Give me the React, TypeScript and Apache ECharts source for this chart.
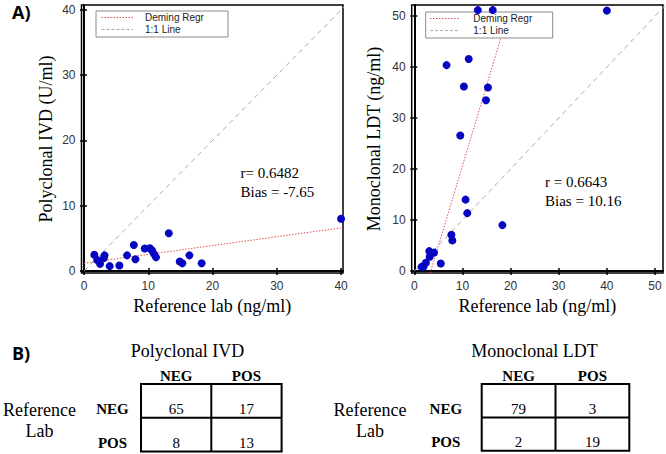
import React, { useEffect, useRef } from "react";
import * as echarts from "echarts";

// ---- Data ----
const polyTicksX = [0, 10, 20, 30, 40];
const polyTicksY = [0, 10, 20, 30, 40];
const monoTicksX = [0, 10, 20, 30, 40, 50];
const monoTicksY = [0, 10, 20, 30, 40, 50];

const polyRef = [1.6, 2.05, 2.5, 3.1, 3.2, 4.0, 5.5, 6.7, 7.75, 8.0, 9.45, 10.25, 10.6, 10.9, 11.2, 13.2, 14.9, 15.3, 16.4, 18.3, 40];
const polyIvd = [2.5, 1.7, 1.1, 2.0, 2.4, 0.75, 0.85, 2.4, 4.0, 1.8, 3.45, 3.5, 3.15, 2.6, 2.1, 5.8, 1.45, 1.2, 2.4, 1.2, 8.0];

const monoRef = [1.5, 1.9, 2.4, 3.1, 3.2, 4.1, 5.5, 6.7, 7.7, 7.9, 9.55, 10.3, 10.65, 11.0, 11.3, 13.2, 14.9, 15.3, 16.3, 18.3, 40];
const monoLdt = [0.8, 0.8, 1.6, 3.9, 2.8, 3.6, 1.45, 40.4, 7.1, 6.0, 26.6, 36.2, 14.0, 11.35, 41.6, 51.2, 33.5, 36.0, 51.2, 9.0, 51.1];

const polyDemingX = [0, 40.3];
const polyDemingY = [1.2, 6.65];
const polyIdentity = [0, 40.7];

// visible part of the Deming line (it disappears behind the legend box)
const monoDemingX = [3.3, 18.0];
const monoDemingY = [-0.45, 45.8];
const monoIdentity = [0, 52.3];

const polyStats = ["r= 0.6482", "Bias = -7.65"];
const monoStats = ["r = 0.6643", "Bias = 10.16"];

const legendLabels = ["Deming Regr", "1:1 Line"];

const tableHeaders = ["NEG", "POS"];
const polyTable = [
  [65, 17],
  [8, 13],
];
const monoTable = [
  [79, 3],
  [2, 19],
];

// ---- Styles ----
const SERIF = "Liberation Serif";
const SANS = "Liberation Sans";
const DOT_BLUE = "#0606c2";
const RED = "#e05555";
const GRAY = "#ababab";

function zip(a: number[], b: number[]) {
  return a.map((v, i) => [v, b[i]]);
}

function makeAxes(
  gridIndex: number,
  xr: [number, number],
  yr: [number, number],
  xt: number[],
  yt: number[],
  yName: string,
  yGap: number
) {
  const x = [
    {
      gridIndex,
      type: "value",
      position: "bottom",
      min: xr[0],
      max: xr[1],
      axisLine: { show: true, lineStyle: { color: "#000", width: 2 } },
      axisTick: { show: true, customValues: xt, length: 4, lineStyle: { color: "#000", width: 1.5 } },
      axisLabel: { customValues: xt, color: "#333", fontFamily: SANS, fontSize: 12, margin: 7 },
      splitLine: { show: false },
      name: "Reference lab (ng/ml)",
      nameLocation: "middle",
      nameGap: 20,
      nameTextStyle: { fontFamily: SERIF, fontSize: 18, color: "#000", fontWeight: "normal" },
    },
    {
      gridIndex,
      type: "value",
      position: "bottom",
      min: xr[0],
      max: xr[1],
      axisLine: { show: false },
      axisTick: { show: true, inside: true, customValues: xt, length: 3, lineStyle: { color: "#000", width: 1.5 } },
      axisLabel: { show: false },
      splitLine: { show: false },
    },
  ];
  const y = [
    {
      gridIndex,
      type: "value",
      position: "left",
      min: yr[0],
      max: yr[1],
      axisLine: { show: true, lineStyle: { color: "#000", width: 2 } },
      axisTick: { show: true, customValues: yt, length: 4, lineStyle: { color: "#000", width: 1.5 } },
      axisLabel: { customValues: yt, color: "#333", fontFamily: SANS, fontSize: 12, margin: 6 },
      splitLine: { show: false },
      name: yName,
      nameLocation: "middle",
      nameGap: yGap,
      nameTextStyle: { fontFamily: SERIF, fontSize: 18, color: "#000", fontWeight: "normal" },
    },
    {
      gridIndex,
      type: "value",
      position: "left",
      min: yr[0],
      max: yr[1],
      axisLine: { show: false },
      axisTick: { show: true, inside: true, customValues: yt, length: 3, lineStyle: { color: "#000", width: 1.5 } },
      axisLabel: { show: false },
      splitLine: { show: false },
    },
  ];
  return { x, y };
}

function legendGraphics(bx: number, by: number, bw: number, bh: number, lx1: number, lx2: number, tx: number) {
  const y1 = by + 6.5;
  const y2 = by + 18.5;
  return [
    {
      type: "rect",
      z: 3,
      shape: { x: bx, y: by, width: bw, height: bh },
      style: { fill: "#fff", stroke: "#8a8a8a", lineWidth: 1 },
    },
    {
      type: "line",
      z: 4,
      shape: { x1: lx1, y1, x2: lx2, y2: y1 },
      style: { stroke: RED, lineWidth: 1, lineDash: [1.5, 1.5] },
    },
    {
      type: "line",
      z: 4,
      shape: { x1: lx1, y1: y2, x2: lx2, y2 },
      style: { stroke: GRAY, lineWidth: 1, lineDash: [3, 2] },
    },
    {
      type: "text",
      z: 4,
      x: tx,
      y: y1,
      style: { text: legendLabels[0], fontFamily: SANS, fontSize: 10, fill: "#222", align: "left", verticalAlign: "middle" },
    },
    {
      type: "text",
      z: 4,
      x: tx,
      y: y2,
      style: { text: legendLabels[1], fontFamily: SANS, fontSize: 10, fill: "#222", align: "left", verticalAlign: "middle" },
    },
  ];
}

function statGraphics(lines: string[], x: number, y: number) {
  return lines.map((t, i) => ({
    type: "text",
    z: 4,
    x,
    y: y + i * 18.5,
    style: { text: t, fontFamily: SERIF, fontSize: 15, fill: "#000", align: "left", verticalAlign: "middle" },
  }));
}

function tableGraphics(
  title: string,
  titleX: number,
  values: number[][],
  x0: number,
  y0: number,
  cw: number,
  ch: number,
  rowLabelX: number,
  refX: number
) {
  const els: any[] = [];
  const txt = (t: string, x: number, y: number, size: number, bold = false) => ({
    type: "text",
    x,
    y,
    style: {
      text: t,
      fontFamily: SERIF,
      fontSize: size,
      fontWeight: bold ? "bold" : "normal",
      fill: "#000",
      align: "center",
      verticalAlign: "middle",
    },
  });
  els.push(txt(title, titleX, 350.5, 18));
  tableHeaders.forEach((h, j) => els.push(txt(h, x0 + (j + 0.5) * cw, 375.5, 15, true)));
  els.push({
    type: "rect",
    shape: { x: x0, y: y0, width: 2 * cw, height: 2 * ch },
    style: { fill: "none", stroke: "#000", lineWidth: 2 },
  });
  els.push({
    type: "line",
    shape: { x1: x0 + cw, y1: y0, x2: x0 + cw, y2: y0 + 2 * ch },
    style: { stroke: "#000", lineWidth: 2 },
  });
  els.push({
    type: "line",
    shape: { x1: x0, y1: y0 + ch, x2: x0 + 2 * cw, y2: y0 + ch },
    style: { stroke: "#000", lineWidth: 2 },
  });
  values.forEach((row, i) => {
    const ty = y0 + (i + 1) * ch - 8.5;
    els.push(txt(tableHeaders[i], rowLabelX, ty, 15, true));
    row.forEach((v, j) => els.push(txt(String(v), x0 + (j + 0.5) * cw, ty, 15)));
  });
  els.push(txt("Reference", refX, 410, 18));
  els.push(txt("Lab", refX, 431, 18));
  return els;
}

export default function App() {
  const ref = useRef<HTMLDivElement>(null);

  useEffect(() => {
    if (!ref.current) return;
    const chart = echarts.init(ref.current, undefined, { renderer: "svg" });

    const polyAxes = makeAxes(0, [-0.39, 40.3], [-0.3, 40.75], polyTicksX, polyTicksY, "Polyclonal IVD (U/ml)", 27);
    const monoAxes = makeAxes(1, [-0.54, 51.66], [-0.4, 52.2], monoTicksX, monoTicksY, "Monoclonal LDT (ng/ml)", 29);

    const option: any = {
      animation: false,
      backgroundColor: "#fff",
      textStyle: { fontFamily: SERIF },
      grid: [
        { left: 81.5, top: 5, width: 261.5, height: 268, show: true, borderColor: "#000", borderWidth: 1.5, backgroundColor: "transparent" },
        { left: 411.7, top: 5, width: 251.3, height: 268, show: true, borderColor: "#000", borderWidth: 1.5, backgroundColor: "transparent" },
      ],
      xAxis: [...polyAxes.x, ...monoAxes.x],
      yAxis: [...polyAxes.y, ...monoAxes.y],
      series: [
        {
          type: "line",
          xAxisIndex: 0,
          yAxisIndex: 0,
          z: 1,
          data: zip(polyIdentity, polyIdentity),
          showSymbol: false,
          symbol: "none",
          lineStyle: { color: GRAY, width: 1, type: [5, 4] },
        },
        {
          type: "line",
          xAxisIndex: 0,
          yAxisIndex: 0,
          z: 1,
          data: zip(polyDemingX, polyDemingY),
          showSymbol: false,
          symbol: "none",
          lineStyle: { color: RED, width: 1, type: [1.5, 1.5] },
        },
        {
          type: "scatter",
          xAxisIndex: 0,
          yAxisIndex: 0,
          z: 5,
          data: zip(polyRef, polyIvd),
          symbolSize: 8,
          itemStyle: { color: DOT_BLUE, opacity: 1 },
        },
        {
          type: "line",
          xAxisIndex: 2,
          yAxisIndex: 2,
          z: 1,
          data: zip(monoIdentity, monoIdentity),
          showSymbol: false,
          symbol: "none",
          lineStyle: { color: GRAY, width: 1, type: [5, 4] },
        },
        {
          type: "line",
          xAxisIndex: 2,
          yAxisIndex: 2,
          z: 1,
          data: zip(monoDemingX, monoDemingY),
          showSymbol: false,
          symbol: "none",
          lineStyle: { color: RED, width: 1, type: [1.5, 1.5] },
        },
        {
          type: "scatter",
          xAxisIndex: 2,
          yAxisIndex: 2,
          z: 5,
          data: zip(monoRef, monoLdt),
          symbolSize: 8,
          itemStyle: { color: DOT_BLUE, opacity: 1 },
        },
      ],
      graphic: [
        {
          type: "text",
          x: 12,
          y: 12,
          style: { text: "A)", fontFamily: "Open Sans", fontWeight: "bold", fontSize: 18, fill: "#000", align: "left", verticalAlign: "middle" },
        },
        {
          type: "text",
          x: 12,
          y: 353,
          style: { text: "B)", fontFamily: "Open Sans", fontWeight: "bold", fontSize: 18, fill: "#000", align: "left", verticalAlign: "middle" },
        },
        ...legendGraphics(96, 11, 132, 26, 101.5, 133, 145),
        ...legendGraphics(425.7, 12, 127, 26, 430, 460, 473.3),
        ...statGraphics(polyStats, 240.5, 173),
        ...statGraphics(monoStats, 545, 182),
        ...tableGraphics("Polyclonal IVD", 187.5, polyTable, 141, 384, 70.3, 33.8, 112.5, 39.5),
        ...tableGraphics("Monoclonal LDT", 534.5, monoTable, 481.7, 384, 73.8, 33.4, 445.8, 370),
      ],
    };

    chart.setOption(option);
    return () => chart.dispose();
  }, []);

  return (
    <div
      ref={ref}
      style={{ position: "fixed", left: 0, top: 0, width: 666, height: 454, background: "#fff" }}
    />
  );
}
